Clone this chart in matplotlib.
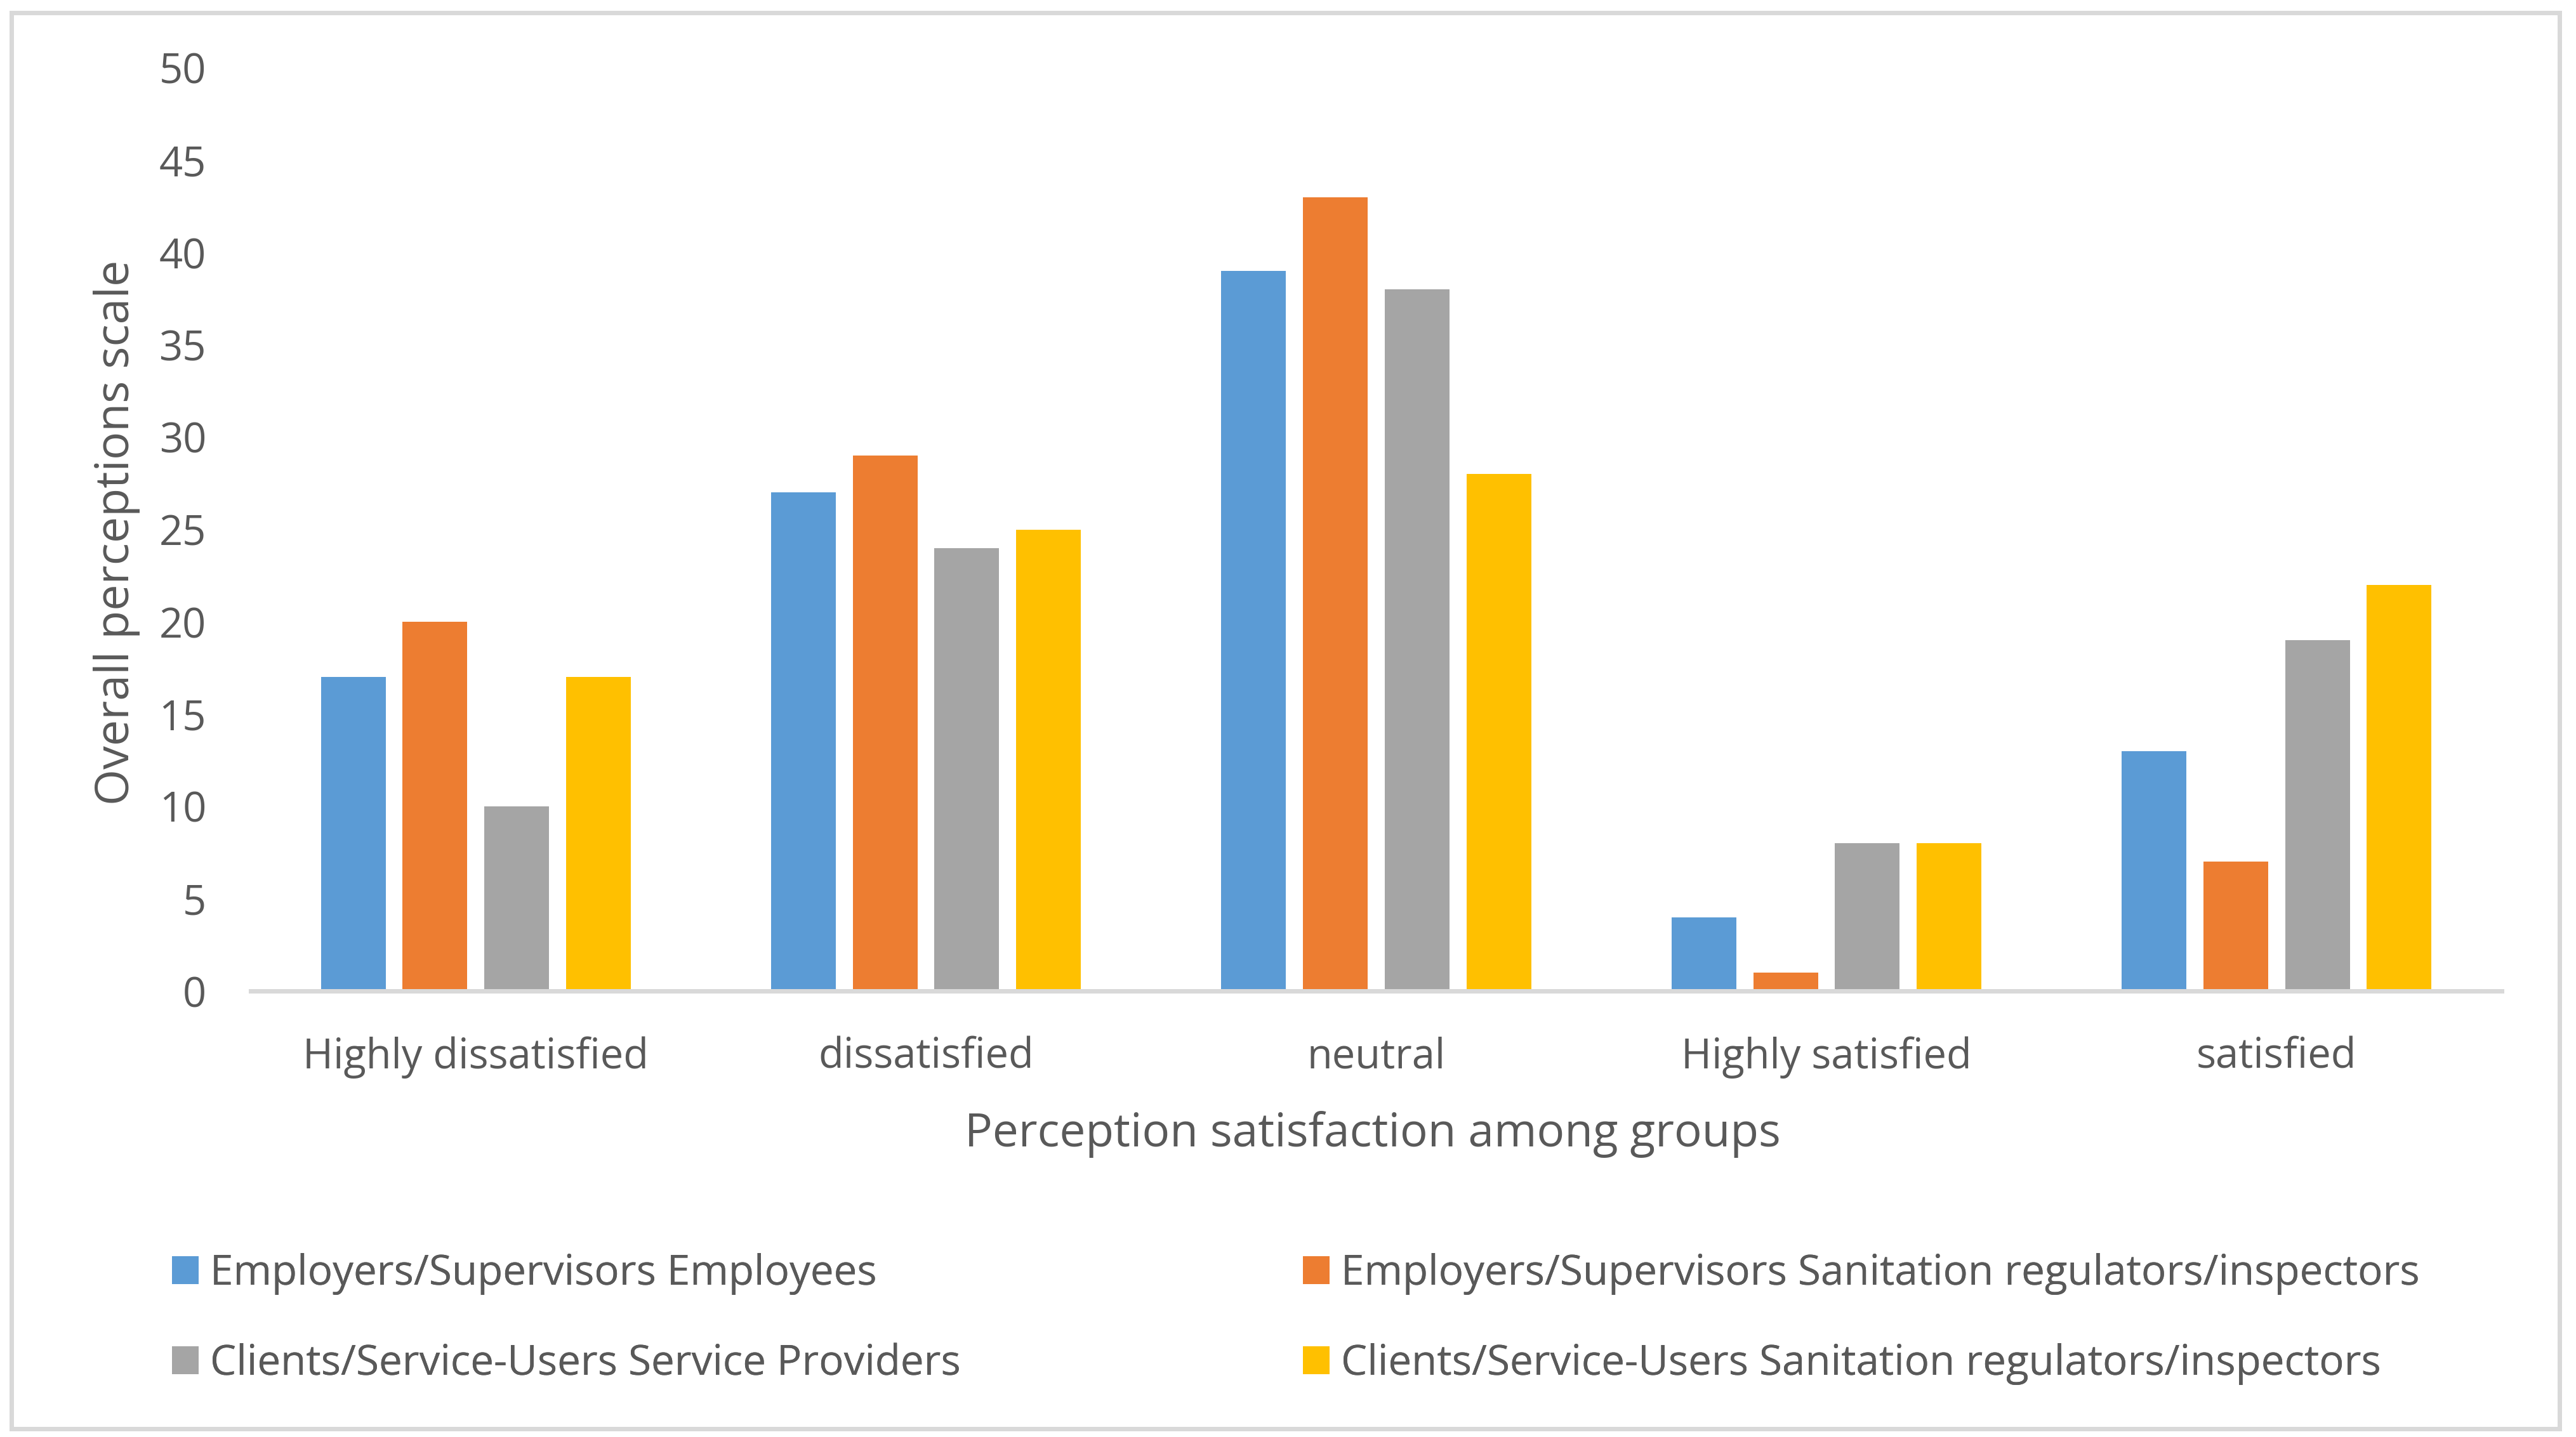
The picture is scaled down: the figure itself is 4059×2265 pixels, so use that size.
import matplotlib
matplotlib.use("Agg")
import matplotlib.pyplot as plt
from matplotlib.patches import Rectangle
import numpy as np

categories = ["Highly dissatisfied", "dissatisfied", "neutral", "Highly satisfied", "satisfied"]
series_names = [
    "Employers/Supervisors Employees",
    "Employers/Supervisors Sanitation regulators/inspectors",
    "Clients/Service-Users Service Providers",
    "Clients/Service-Users Sanitation regulators/inspectors",
]
emp_employees = [17, 27, 39, 4, 13]
emp_sanitation = [20, 29, 43, 1, 7]
cli_providers = [10, 24, 38, 8, 19]
cli_sanitation = [17, 25, 28, 8, 22]
series_values = [emp_employees, emp_sanitation, cli_providers, cli_sanitation]
colors = ["#5B9BD5", "#ED7D31", "#A5A5A5", "#FFC000"]
yticks = [0, 5, 10, 15, 20, 25, 30, 35, 40, 45, 50]
xlabel = "Perception satisfaction among groups"
ylabel = "Overall perceptions scale"

W, H = 4059, 2265
DPI = 100
FAM = "Open Sans"
TXT = "#595959"
GRID = "#D9D9D9"
plt.rcParams["font.family"] = [FAM, "DejaVu Sans"]

fig = plt.figure(figsize=(W / DPI, H / DPI), dpi=DPI, facecolor="white")
renderer = fig.canvas.get_renderer()


def fit(text, target_px):
    t = fig.text(0, 0, text, fontsize=100)
    w = t.get_window_extent(renderer).width
    t.remove()
    return 100.0 * target_px / w


fs_tick = fit("Highly dissatisfied", 545)
fs_label = fit(xlabel, 1285)
fs_ylabel = fit(ylabel, 860)
fs_leg = fit(series_names[0], 1050)

px2pt = 72.0 / DPI

ax_l, ax_r, ax_t, ax_b = 395, 3942, 107, 1562
ax = fig.add_axes([ax_l / W, (H - ax_b) / H, (ax_r - ax_l) / W, (ax_b - ax_t) / H])

x = np.arange(len(categories))
bw = 0.1438
step = 0.1814
n = len(series_values)
handles = []
for i, (vals, c, name) in enumerate(zip(series_values, colors, series_names)):
    off = (i - (n - 1) / 2) * step
    b = ax.bar(x + off, vals, width=bw, color=c, label=name, zorder=2)
    handles.append(b)

ax.set_xlim(-0.5, len(categories) - 0.5)
ax.set_ylim(0, 50)
ax.set_yticks(yticks)
ax.set_xticks(x)
ax.set_xticklabels(categories)
for s in ["top", "right", "left"]:
    ax.spines[s].set_visible(False)
ax.spines["bottom"].set_color(GRID)
ax.spines["bottom"].set_linewidth(7 * px2pt)
ax.spines["bottom"].set_zorder(3)
ax.tick_params(axis="y", length=0, pad=70 * px2pt, labelsize=fs_tick, labelcolor=TXT)
ax.tick_params(axis="x", length=0, pad=71 * px2pt, labelsize=fs_tick, labelcolor=TXT)

ax.set_xlabel(xlabel, fontsize=fs_label, color=TXT, va="center")
ax.xaxis.set_label_coords(0.4985, (ax_b - 1788) / (ax_b - ax_t))
ax.set_ylabel(ylabel, fontsize=fs_ylabel, color=TXT, va="center")
ax.yaxis.set_label_coords((184 - ax_l) / (ax_r - ax_l), 0.497)

# legend: four entries placed in two rows / two columns
sq_px = 42
fs_leg_px = fs_leg / px2pt
leg_pos = [(271, 2008), (2053, 2008), (271, 2150), (2053, 2150)]
for h, name, (lx, ly) in zip(handles, series_names, leg_pos):
    leg = fig.legend([h], [name], loc="center left",
                     bbox_to_anchor=(lx / W, (H - ly) / H),
                     frameon=False, fontsize=fs_leg, labelcolor=TXT,
                     handlelength=sq_px / fs_leg_px, handleheight=sq_px / fs_leg_px,
                     handletextpad=18 / fs_leg_px, borderpad=0, borderaxespad=0)
    fig.add_artist(leg)

# outer chart border
fig.patches.append(Rectangle((18 / W, (H - 2252) / H), (4033 - 18) / W, (2252 - 20) / H,
                             transform=fig.transFigure, fill=False,
                             edgecolor=GRID, linewidth=7 * px2pt, zorder=0))

fig.savefig("out.png", dpi=DPI, facecolor="white")
